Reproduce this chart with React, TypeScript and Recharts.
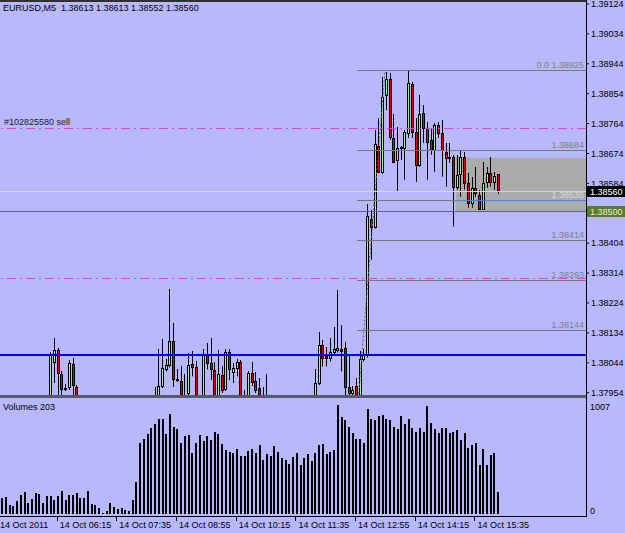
import React from 'react'
import { ComposedChart, Bar, XAxis, YAxis, ReferenceLine, ReferenceArea } from 'recharts'

const FONT = "'Liberation Sans', Arial, sans-serif"
const BG = '#B8B8FF'

type N = number | null
const _ = null

// EURUSD M5, 14 Oct 2011, bars from 04:55. null = candle out of the visible price range
const opens: N[] = [
  _, _, _, _, _, _, _, _, _, _,
  _, _, _, 1.37938, 1.38045, 1.38081, 1.38009, 1.37968, 1.37971, 1.38039,
  1.37971, _, _, _, _, _, _, _, _, _,
  _, _, _, _, _, _, _, _, _, _,
  _, 1.37938, 1.37935, 1.37974, 1.38024, 1.38036, 1.38111, 1.37995, 1.37989, 1.37938,
  1.37953, 1.38039, 1.38030, _, 1.37938, 1.38069, 1.38042, 1.38021, 1.37938, 1.38006,
  1.37965, 1.38075, 1.38015, 1.38027, 1.38045, 1.37938, 1.37938, 1.38012, 1.37989, 1.37968,
  1.37938, 1.37938, _, _, _, _, _, _, _, _,
  _, _, _, _, 1.37938, 1.37983, 1.38099, 1.38063, 1.38057, 1.38075,
  1.38081, 1.38084, 1.38087, 1.37971, 1.37953, 1.37974, 1.37938, 1.38054, 1.38066, 1.38477,
  1.38454, 1.38697, 1.38619, 1.38850, 1.38898, 1.38721, 1.38655, 1.38691, 1.38691, 1.38736,
  1.38883, 1.38739, 1.38640, 1.38796, 1.38751, 1.38715, 1.38685, 1.38760, 1.38736, 1.38679,
  1.38661, 1.38664, 1.38574, 1.38613, 1.38664, 1.38586, 1.38526, 1.38571, 1.38550, 1.38508,
  1.38589, 1.38616, 1.38589, 1.38613,
]
const highs: N[] = [
  _, _, _, _, _, _, _, _, _, _,
  _, _, _, 1.38075, 1.38120, 1.38087, 1.38018, 1.37980, 1.38051, 1.38057,
  1.37977, _, _, _, _, _, _, _, _, _,
  _, _, _, _, _, _, _, _, _, _,
  _, 1.37971, 1.38084, 1.38117, 1.38054, 1.38267, 1.38165, 1.38024, 1.38033, 1.38009,
  1.38072, 1.38078, 1.38048, _, 1.38084, 1.38105, 1.38120, 1.38045, 1.38081, 1.38033,
  1.38084, 1.38084, 1.38042, 1.38054, 1.38051, 1.37962, 1.38018, 1.38045, 1.38015, 1.37998,
  1.37971, 1.38009, _, _, _, _, _, _, _, _,
  _, _, _, _, 1.38024, 1.38138, 1.38114, 1.38090, 1.38120, 1.38153,
  1.38264, 1.38159, 1.38108, 1.38063, 1.37974, 1.37998, 1.38078, 1.38084, 1.38522, 1.38504,
  1.38745, 1.38781, 1.38904, 1.38919, 1.38916, 1.38793, 1.38754, 1.38697, 1.38745, 1.38925,
  1.38889, 1.38781, 1.38850, 1.38820, 1.38769, 1.38751, 1.38766, 1.38769, 1.38775, 1.38706,
  1.38706, 1.38670, 1.38670, 1.38685, 1.38679, 1.38616, 1.38604, 1.38634, 1.38565, 1.38649,
  1.38634, 1.38664, 1.38619, 1.38613,
]
const lows: N[] = [
  _, _, _, _, _, _, _, _, _, _,
  _, _, _, 1.37932, 1.37983, 1.37938, 1.37938, 1.37959, 1.37962, 1.37938,
  1.37932, _, _, _, _, _, _, _, _, _,
  _, _, _, _, _, _, _, _, _, _,
  _, 1.37932, 1.37932, 1.37968, 1.38018, 1.38030, 1.37971, 1.37986, 1.37932, 1.37932,
  1.37947, 1.38003, 1.37932, _, 1.37932, 1.38024, 1.37992, 1.37932, 1.37932, 1.37953,
  1.37959, 1.37992, 1.37983, 1.38003, 1.37932, 1.37932, 1.37932, 1.37974, 1.37953, 1.37932,
  1.37932, 1.37932, _, _, _, _, _, _, _, _,
  _, _, _, _, 1.37932, 1.37977, 1.38033, 1.38033, 1.38048, 1.38066,
  1.38075, 1.38018, 1.37938, 1.37944, 1.37944, 1.37932, 1.37932, 1.38048, 1.38060, 1.38354,
  1.38448, 1.38616, 1.38613, 1.38805, 1.38715, 1.38646, 1.38559, 1.38655, 1.38595, 1.38721,
  1.38721, 1.38589, 1.38634, 1.38706, 1.38595, 1.38670, 1.38619, 1.38721, 1.38604, 1.38574,
  1.38646, 1.38454, 1.38565, 1.38544, 1.38565, 1.38511, 1.38511, 1.38544, 1.38505, 1.38505,
  1.38571, 1.38574, 1.38565, 1.38552,
]
const closes: N[] = [
  _, _, _, _, _, _, _, _, _, _,
  _, _, _, 1.38069, 1.38081, 1.38012, 1.37965, 1.37965, 1.38042, 1.37977,
  1.37938, _, _, _, _, _, _, _, _, _,
  _, _, _, _, _, _, _, _, _, _,
  _, 1.37935, 1.37974, 1.38027, 1.38036, 1.38111, 1.37995, 1.37992, 1.37938, 1.37935,
  1.38036, 1.38030, 1.37938, _, 1.38069, 1.38042, 1.38024, 1.37938, 1.38009, 1.37962,
  1.38075, 1.38024, 1.38027, 1.38045, 1.37938, 1.37935, 1.38012, 1.37986, 1.37962, 1.37938,
  1.37935, 1.37935, _, _, _, _, _, _, _, _,
  _, _, _, _, 1.37983, 1.38099, 1.38057, 1.38057, 1.38075, 1.38084,
  1.38087, 1.38078, 1.37971, 1.37953, 1.37962, 1.37938, 1.38054, 1.38066, 1.38486, 1.38454,
  1.38703, 1.38619, 1.38844, 1.38898, 1.38724, 1.38649, 1.38691, 1.38694, 1.38739, 1.38886,
  1.38739, 1.38640, 1.38793, 1.38751, 1.38709, 1.38685, 1.38760, 1.38736, 1.38685, 1.38661,
  1.38664, 1.38574, 1.38610, 1.38664, 1.38586, 1.38526, 1.38571, 1.38556, 1.38508, 1.38586,
  1.38616, 1.38589, 1.38607, 1.38560,
]
const volumes = [
  146, 156, 84, 75, 124, 171, 205, 105, 140, 196,
  186, 105, 165, 165, 130, 165, 214, 130, 171, 180,
  196, 146, 146, 214, 93, 81, 59, 9, 31, 102,
  68, 50, 53, 37, 28, 130, 295, 659, 696, 736,
  798, 836, 876, 882, 736, 922, 808, 789, 659, 720,
  730, 566, 652, 730, 671, 720, 687, 755, 736, 643,
  590, 575, 566, 596, 540, 540, 581, 596, 566, 634,
  503, 556, 540, 624, 572, 519, 503, 460, 531, 566,
  457, 513, 550, 488, 566, 634, 643, 556, 575, 590,
  1007, 892, 870, 808, 746, 696, 696, 652, 969, 882,
  870, 901, 913, 882, 870, 808, 783, 907, 830, 876,
  792, 758, 799, 758, 1000, 845, 783, 746, 799, 799,
  746, 761, 774, 680, 752, 612, 634, 652, 450, 596,
  457, 543, 566, 203,
]

const priceTicks = [1.39124, 1.39034, 1.38944, 1.38854, 1.38764, 1.38674, 1.38584, 1.38404, 1.38314, 1.38224, 1.38134, 1.38044, 1.37954]
const timeTickBars = [0, 16, 32, 48, 64, 80, 96, 112, 128]
const timeLabels = ['14 Oct 2011', '14 Oct 06:15', '14 Oct 07:35', '14 Oct 08:55', '14 Oct 10:15', '14 Oct 11:35', '14 Oct 12:55', '14 Oct 14:15', '14 Oct 15:35']
const fibLevels = [1.38925, 1.38684, 1.38535, 1.38414, 1.38293, 1.38144]
const fibTexts = ['0.0 1.38925', '1.38684', '1.38535', '1.38414', '1.38293', '1.38144']
const fibStartBar = 95.2
const fibTrend = [{ x: 95.3, y: 1.37904 }, { x: 102.7, y: 1.38925 }]
const sellLevel = 1.38752
const stopLevel = 1.38298
const blueLevel = 1.38066
const oliveLevel = 1.385
const bidPrice = 1.3856
const boxTop = 1.38661
const boxStartBar = 121.7

const X_DOMAIN: [number, number] = [-0.54, 156.57]
const Y_DOMAIN: [number, number] = [1.37947, 1.39124]
const PX_PER_PRICE = 391 / (Y_DOMAIN[1] - Y_DOMAIN[0])

const rows = volumes.map((v, i) => ({ i, o: opens[i], h: highs[i], l: lows[i], c: closes[i], v }))

function Candle(props: any) {
  const { x, y, width, payload } = props
  if (!payload || payload.h == null) return <g />
  const { o, h, l, c } = payload
  const cx = Math.round(x + width / 2) + 0.5
  const yOf = (v: number) => y + (h - v) * PX_PER_PRICE
  const top = Math.round(yOf(Math.max(o, c))) + 0.5
  const bot = Math.round(yOf(Math.min(o, c))) + 0.5
  return (
    <g>
      <line x1={cx} x2={cx} y1={Math.round(y)} y2={yOf(l)} stroke="#000" />
      <rect x={cx - 1} y={top} width={2} height={Math.max(bot - top, 0)}
        fill={c >= o ? '#9CF09C' : '#E00000'} stroke="#000" />
    </g>
  )
}

function VolBar(props: any) {
  const { x, y, width, height } = props
  if (!height) return <g />
  const cx = Math.round(x + width / 2)
  return <rect x={cx - 1} y={Math.round(y)} width={2} height={Math.round(y + height) - Math.round(y)} fill="#000" />
}

// horizontal reference lines snapped to the pixel grid, like the terminal draws them
function CrispLine(props: any) {
  const { x1, x2, y1, stroke, strokeWidth = 1, strokeDasharray } = props
  const yy = Math.round(y1) + (strokeWidth % 2 === 1 ? 0.5 : 0)
  return <line x1={Math.round(x1)} x2={Math.round(x2)} y1={yy} y2={yy} stroke={stroke} strokeWidth={strokeWidth} strokeDasharray={strokeDasharray} />
}
const crisp = (p: any) => <CrispLine {...p} />

function TimeTick(props: any) {
  const { x, y, payload } = props
  const k = timeTickBars.indexOf(payload.value)
  const tx = Math.round(x) - 4.5
  return (
    <g>
      <line x1={tx} x2={tx} y1={y + 2} y2={y + 7} stroke="#000" />
      <text x={x - 2} y={y + 14} fontSize={9} fontFamily={FONT} fill="#000">{timeLabels[k]}</text>
    </g>
  )
}

function VolTick(props: any) {
  const { x, y, payload } = props
  return (
    <text x={x} y={y + (payload.value === 0 ? -3 : 2)} dy="0.355em" fontSize={9} fontFamily={FONT} fill="#000">
      {payload.value}
    </text>
  )
}

function FibLabel({ viewBox, text, color }: any) {
  if (!viewBox) return null
  return (
    <text x={viewBox.x + viewBox.width - 2} y={viewBox.y - 2} textAnchor="end" fontSize={9} fontFamily={FONT} fill={color}>
      {text}
    </text>
  )
}

function OrderLabel({ viewBox, text }: any) {
  if (!viewBox) return null
  return (
    <text x={viewBox.x + 4} y={viewBox.y - 3} fontSize={9} fontFamily={FONT} fill="#202020">{text}</text>
  )
}

function AxisTag({ viewBox, text, bg, fg }: any) {
  if (!viewBox) return null
  const yy = Math.round(viewBox.y)
  const left = Math.round(viewBox.x + viewBox.width) + 1
  return (
    <g>
      <rect x={left} y={yy - 5} width={38} height={11} fill={bg} />
      <text x={left + 3} y={yy + 1} dy="0.355em" fontSize={9} fontFamily={FONT} fill={fg}>{text}</text>
    </g>
  )
}

const line = (style: React.CSSProperties) => <div style={{ position: 'absolute', ...style }} />

export default function App() {
  return (
    <div style={{ position: 'absolute', left: 0, top: 0, width: 625, height: 533, background: BG, overflow: 'hidden', fontFamily: FONT }}>
      <div style={{ position: 'absolute', left: 0, top: 0 }}>
        <ComposedChart width={625} height={398} data={rows} margin={{ top: 4, right: 0, bottom: 3, left: 0 }}>
          <XAxis type="number" dataKey="i" domain={X_DOMAIN} allowDataOverflow hide />
          <YAxis orientation="right" width={39} domain={Y_DOMAIN} allowDataOverflow ticks={priceTicks}
            interval={0} tickFormatter={(v: number) => v.toFixed(5)} axisLine={false}
            tickLine={{ stroke: '#000' }} tickSize={3} tickMargin={2}
            tick={{ fill: '#000', fontSize: 9, fontFamily: FONT }} />
          <ReferenceArea x1={boxStartBar} x2={X_DOMAIN[1]} y1={oliveLevel} y2={boxTop} fill="#ABABAB" fillOpacity={1} stroke="none" ifOverflow="hidden" />
          <Bar dataKey={(d: any) => (d.h == null ? null : [d.l, d.h])} barSize={3} shape={<Candle />} isAnimationActive={false} />
          <ReferenceLine y={bidPrice} stroke="#D4D4E4" shape={crisp} label={<AxisTag text="1.38560" bg="#000" fg="#fff" />} />
          <ReferenceLine y={oliveLevel} stroke="#5B7B2B" shape={crisp} label={<AxisTag text="1.38500" bg="#5B7B2B" fg="#E8F0D8" />} />
          <ReferenceLine y={blueLevel} stroke="#0000FF" strokeWidth={2} shape={crisp} />
          <ReferenceLine y={sellLevel} stroke="#E040E0" strokeDasharray="9 4 2 4" shape={crisp} label={<OrderLabel text="#102825580 sell" />} />
          <ReferenceLine y={stopLevel} stroke="#E040E0" strokeDasharray="9 4 2 4" shape={crisp} />
          {fibLevels.map((lv, k) => (
            <ReferenceLine key={lv} segment={[{ x: fibStartBar, y: lv }, { x: X_DOMAIN[1], y: lv }]} stroke="#787878" shape={crisp}
              label={<FibLabel text={fibTexts[k]} color={k === 2 ? '#D8D8D8' : '#808080'} />} />
          ))}
          <ReferenceLine segment={[{ x: boxStartBar, y: fibLevels[2] }, { x: X_DOMAIN[1], y: fibLevels[2] }]} stroke="#4682E6" shape={crisp} />
          <ReferenceLine segment={fibTrend} stroke="#606060" strokeDasharray="2 2" ifOverflow="hidden" />
        </ComposedChart>
      </div>
      <div style={{ position: 'absolute', left: 0, top: 398 }}>
        <ComposedChart width={625} height={135} data={rows} margin={{ top: 7, right: 0, bottom: 0, left: 0 }}>
          <XAxis type="number" dataKey="i" domain={X_DOMAIN} allowDataOverflow ticks={timeTickBars} interval={0}
            height={19} axisLine={false} tickLine={false} tickSize={0} tickMargin={0} tick={<TimeTick />} />
          <YAxis orientation="right" width={39} domain={[0, 1007]} ticks={[0, 1007]} interval={0}
            axisLine={false} tickLine={false} tickSize={0} tickMargin={4} tick={<VolTick />} />
          <Bar dataKey="v" barSize={2} shape={<VolBar />} isAnimationActive={false} />
        </ComposedChart>
      </div>
      {line({ left: 0, top: 0, width: 586, height: 2, background: '#303030' })}
      {line({ left: 586, top: 0, width: 1, height: 517, background: '#000' })}
      {line({ left: 0, top: 395, width: 586, height: 3, background: '#5A5A6E' })}
      {line({ left: 0, top: 516, width: 587, height: 1, background: '#000' })}
      <div style={{ position: 'absolute', left: 3, top: 2, fontSize: 9, lineHeight: '12px', whiteSpace: 'pre', color: '#000' }}>
        {'EURUSD,M5  1.38613 1.38613 1.38552 1.38560'}
      </div>
      <div style={{ position: 'absolute', left: 3, top: 401, fontSize: 9, lineHeight: '12px', whiteSpace: 'pre', color: '#000' }}>
        {'Volumes 203'}
      </div>
    </div>
  )
}
